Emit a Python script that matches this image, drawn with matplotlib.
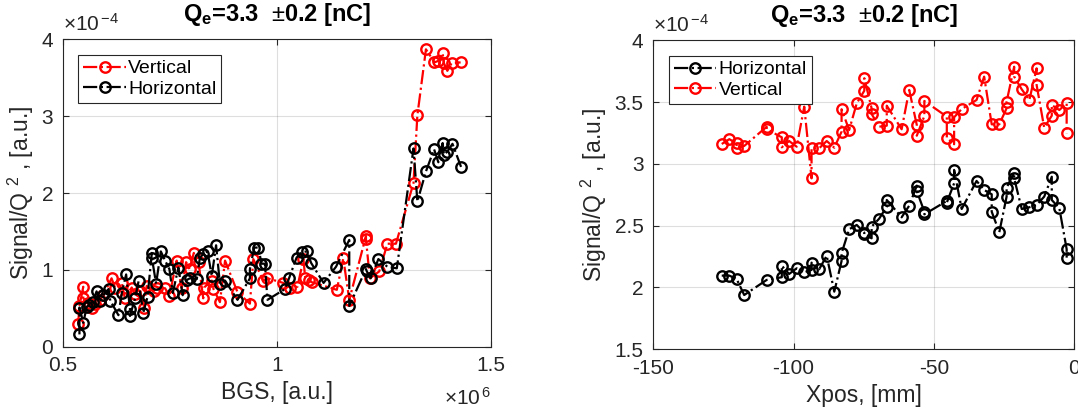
import matplotlib
matplotlib.use("Agg")
import matplotlib.pyplot as plt
import numpy as np

plt.rcParams['font.family'] = ['Liberation Sans', 'DejaVu Sans']
plt.rcParams['mathtext.fontset'] = 'custom'
plt.rcParams['mathtext.rm'] = 'Liberation Sans'
plt.rcParams['mathtext.bf'] = 'Liberation Sans:bold'
plt.rcParams['mathtext.it'] = 'Liberation Sans:italic'
plt.rcParams['axes.unicode_minus'] = False

# ---------------- Left panel data (BGS [x1e6 a.u.], Signal/Q^2 [x1e-4 a.u.]) ----------------
bgs_h = [0.539, 0.539, 0.548, 0.556, 0.562, 0.570, 0.579, 0.586, 0.595, 0.607, 0.611, 0.630,
         0.638, 0.648, 0.657, 0.657, 0.669, 0.677, 0.688, 0.698, 0.708, 0.708, 0.718, 0.729,
         0.739, 0.749, 0.757, 0.770, 0.780, 0.790, 0.797, 0.813, 0.820, 0.828, 0.838, 0.848,
         0.858, 0.867, 0.879, 0.908, 0.937, 0.937, 0.947, 0.957, 0.964, 0.972, 0.978, 1.019,
         1.029, 1.046, 1.058, 1.070, 1.080, 1.109, 1.138, 1.169, 1.169, 1.208, 1.210, 1.219,
         1.237, 1.258, 1.280, 1.319, 1.328, 1.348, 1.367, 1.377, 1.387, 1.390, 1.398, 1.410,
         1.430]
sig_h = [0.16, 0.51, 0.31, 0.52, 0.54, 0.58, 0.72, 0.60, 0.67, 0.75, 0.60, 0.41,
         0.70, 0.94, 0.49, 0.40, 0.63, 0.85, 0.44, 0.65, 1.22, 1.16, 0.82, 1.24,
         1.12, 1.01, 0.70, 1.03, 0.67, 0.87, 0.89, 0.88, 1.15, 1.21, 1.24, 0.92,
         1.32, 0.82, 0.86, 0.61, 0.89, 1.01, 1.29, 1.29, 1.08, 1.08, 0.61, 0.75,
         0.90, 1.16, 1.23, 1.24, 1.09, 0.83, 1.04, 1.39, 0.53, 1.01, 0.98, 0.89,
         1.14, 1.04, 1.02, 2.58, 1.89, 2.28, 2.57, 2.40, 2.65, 2.50, 2.54, 2.64,
         2.34]

bgs_v = [0.536, 0.539, 0.548, 0.548, 0.558, 0.568, 0.575, 0.587, 0.595, 0.614, 0.622, 0.638,
         0.645, 0.661, 0.669, 0.681, 0.690, 0.696, 0.712, 0.721, 0.739, 0.749, 0.766, 0.778,
         0.788, 0.796, 0.806, 0.817, 0.828, 0.830, 0.848, 0.852, 0.867, 0.879, 0.908, 0.937,
         0.945, 0.968, 0.978, 1.015, 1.031, 1.048, 1.062, 1.066, 1.074, 1.081, 1.140, 1.155,
         1.169, 1.208, 1.208, 1.217, 1.239, 1.258, 1.278, 1.319, 1.328, 1.348, 1.368, 1.377,
         1.387, 1.390, 1.398, 1.408, 1.429]
sig_v = [0.30, 0.53, 0.78, 0.63, 0.57, 0.50, 0.56, 0.61, 0.67, 0.89, 0.77, 0.83,
         0.63, 0.77, 0.68, 0.73, 0.51, 0.79, 0.73, 0.77, 0.76, 0.66, 1.12, 0.76,
         1.10, 1.01, 1.22, 1.10, 0.63, 0.77, 0.86, 0.75, 0.58, 1.12, 0.71, 0.56,
         1.14, 0.86, 0.89, 0.83, 0.77, 0.78, 1.14, 0.90, 0.87, 0.84, 0.74, 1.15,
         0.61, 1.44, 1.40, 0.89, 0.98, 1.34, 1.34, 2.13, 3.01, 3.87, 3.70, 3.72,
         3.82, 3.69, 3.59, 3.69, 3.70]

# ---------------- Right panel data (Xpos [mm], Signal/Q^2 [x1e-4 a.u.]) ----------------
xpos_h = [-125.6, -122.9, -120.3, -117.6, -109.6, -104.2, -104.2, -101.6, -98.9, -96.2,
          -93.6, -93.6, -90.9, -88.2, -85.5, -82.9, -82.9, -80.2, -77.5, -74.8, -74.8,
          -72.2, -72.2, -69.5, -66.8, -66.8, -61.5, -58.8, -56.1, -56.1, -53.4, -53.4,
          -45.4, -45.4, -42.8, -42.8, -40.1, -34.8, -32.1, -29.4, -29.4, -26.7, -24.1,
          -24.1, -21.4, -21.4, -18.7, -16.0, -13.4, -10.7, -8.0, -8.0, -5.3, -2.7, -2.7]
sig_xh = [2.096, 2.096, 2.069, 1.939, 2.061, 2.083, 2.176, 2.109, 2.155, 2.123,
          2.142, 2.201, 2.147, 2.257, 1.966, 2.214, 2.277, 2.471, 2.506, 2.443, 2.430,
          2.398, 2.492, 2.557, 2.654, 2.708, 2.568, 2.662, 2.824, 2.781, 2.613, 2.592,
          2.700, 2.687, 2.843, 2.951, 2.635, 2.862, 2.789, 2.754, 2.613, 2.447, 2.735,
          2.807, 2.930, 2.883, 2.635, 2.649, 2.667, 2.735, 2.896, 2.708, 2.641, 2.311, 2.236]

xpos_v = [-125.6, -122.9, -120.3, -120.3, -117.6, -109.6, -109.6, -104.2, -104.2, -101.6,
          -98.9, -96.2, -93.6, -93.6, -90.9, -88.2, -85.5, -82.9, -82.9, -80.2, -77.5,
          -74.8, -74.8, -72.2, -72.2, -69.5, -66.8, -66.8, -61.5, -58.8, -56.1, -56.1,
          -53.4, -53.4, -45.4, -45.4, -42.8, -42.8, -40.1, -34.8, -32.1, -29.4, -26.7,
          -24.1, -24.1, -21.4, -21.4, -18.7, -16.0, -13.4, -13.4, -10.7, -8.0, -8.0,
          -5.3, -2.7, -2.7]
sig_xv = [3.161, 3.200, 3.165, 3.130, 3.145, 3.300, 3.280, 3.215, 3.134, 3.185,
          3.139, 3.463, 2.883, 3.126, 3.126, 3.185, 3.131, 3.261, 3.442, 3.274, 3.490,
          3.592, 3.693, 3.450, 3.404, 3.301, 3.309, 3.471, 3.280, 3.598, 3.315, 3.228,
          3.388, 3.509, 3.382, 3.212, 3.159, 3.377, 3.444, 3.517, 3.706, 3.320, 3.320,
          3.450, 3.503, 3.786, 3.706, 3.603, 3.517, 3.773, 3.638, 3.293, 3.390, 3.476,
          3.436, 3.490, 3.248]

# tick values and labels
left_xticks = [0.5, 1.0, 1.5]
left_xticklabels = ['0.5', '1', '1.5']
left_yticks = [0, 1, 2, 3, 4]
left_yticklabels = ['0', '1', '2', '3', '4']
right_xticks = [-150, -100, -50, 0]
right_xticklabels = ['-150', '-100', '-50', '0']
right_yticks = [1.5, 2, 2.5, 3, 3.5, 4]
right_yticklabels = ['1.5', '2', '2.5', '3', '3.5', '4']

title_txt = r'Q$_{\mathbf{e}}$=3.3  $\pm$0.2 [nC]'
ylab = r'Signal/Q $^{2}$ , [a.u.]'

axc = (0.15, 0.15, 0.15)
TFS = 15     # tick labels
LFS = 16.5   # axis labels
TTL = 17     # title
LGF = 14     # legend

fig = plt.figure(figsize=(10.78, 4.17), dpi=100)
ax1 = fig.add_axes([0.0582, 0.1686, 0.3973, 0.7371])
ax2 = fig.add_axes([0.6060, 0.1624, 0.3905, 0.7410])

line_kw = dict(linestyle='-.', linewidth=1.6, marker='o', markersize=7.5,
               markerfacecolor='none', markeredgewidth=1.7)

ax1.plot(bgs_v, sig_v, color='red', label='Vertical', **line_kw)
ax1.plot(bgs_h, sig_h, color='black', label='Horizontal', **line_kw)
ax1.set_xlim(0.5, 1.5)
ax1.set_ylim(0, 4)
ax1.set_xticks(left_xticks, left_xticklabels)
ax1.set_yticks(left_yticks, left_yticklabels)
ax1.set_xlabel('BGS, [a.u.]', fontsize=LFS, color=axc, labelpad=4)

ax2.plot(xpos_h, sig_xh, color='black', label='Horizontal', **line_kw)
ax2.plot(xpos_v, sig_xv, color='red', label='Vertical', **line_kw)
ax2.set_xlim(-150, 0)
ax2.set_ylim(1.5, 4)
ax2.set_xticks(right_xticks, right_xticklabels)
ax2.set_yticks(right_yticks, right_yticklabels)
ax2.set_xlabel('Xpos, [mm]', fontsize=LFS, color=axc, labelpad=4)

for ax in (ax1, ax2):
    ax.set_ylabel(ylab, fontsize=LFS, color=axc, labelpad=4)
    ax.set_title(title_txt, fontsize=TTL, fontweight='bold', color='black', pad=13)
    ax.grid(True, color=axc, alpha=0.15, linewidth=0.8)
    ax.set_axisbelow(True)
    ax.tick_params(direction='in', length=4, labelsize=TFS, colors=axc, top=True, right=True,
                   pad=7)
    for sp in ax.spines.values():
        sp.set_color(axc)
        sp.set_linewidth(0.8)
    ax.text(0.0, 1.015, r'$\times10^{\,\mathregular{-4}}$', transform=ax.transAxes,
            ha='left', va='bottom', fontsize=TFS, color=axc)
    leg = ax.legend(loc='upper left', fontsize=LGF, frameon=True, fancybox=False,
                    framealpha=1, edgecolor=axc, handlelength=2.2, handletextpad=0.1,
                    borderpad=0.25, labelspacing=0.15, borderaxespad=0.8)
    leg.get_frame().set_linewidth(0.8)

ax1.text(1.0, -0.13, r'$\times10^{\,\mathregular{6}}$', transform=ax1.transAxes,
         ha='right', va='top', fontsize=TFS, color=axc)

fig.savefig('out.png', dpi=100)
